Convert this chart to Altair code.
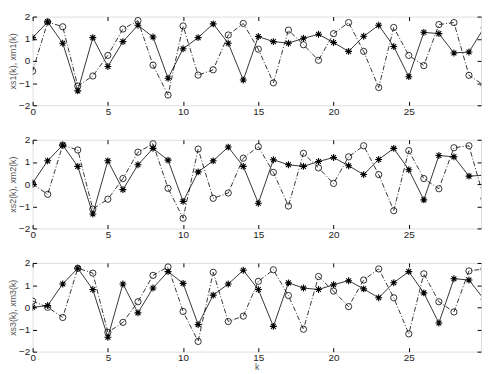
import altair as alt
import pandas as pd

k = list(range(31))
x_ticks = [0, 5, 10, 15, 20, 25, 30]
y_ticks = [-2, -1, 0, 1, 2]

xs1 = [1.05, 1.76, 0.80, -1.35, 1.05, -0.25, 0.87, 1.61, 1.08, -0.78, 0.55, 1.05, 1.67, 0.80, -0.86, 1.10,
       0.87, 0.80, 1.02, 1.20, 0.83, 0.43, 1.11, 1.61, 0.65, -0.71, 1.29, 1.23, 0.36, 0.40, 1.50]
xm1 = [-0.46, 1.76, 1.54, -1.13, -0.68, 0.25, 1.44, 1.82, -0.19, -1.54, 1.58, -0.64, -0.40, 1.17, 1.69, 0.53,
       -0.99, 1.39, 0.73, 0.03, 1.23, 1.73, 0.43, -1.20, 1.51, 0.25, -0.21, 1.64, 1.73, -0.65, -1.10]
xs2 = [0.05, 1.05, 1.76, 0.80, -1.35, 1.05, -0.25, 0.87, 1.61, 1.08, -0.78, 0.55, 1.05, 1.67, 0.80, -0.86,
       1.10, 0.87, 0.80, 1.02, 1.20, 0.83, 0.43, 1.11, 1.61, 0.65, -0.71, 1.29, 1.23, 0.36, 0.40]
xm2 = [0.0, -0.46, 1.76, 1.54, -1.13, -0.68, 0.25, 1.44, 1.82, -0.19, -1.54, 1.58, -0.64, -0.40, 1.17, 1.69,
       0.53, -0.99, 1.39, 0.73, 0.03, 1.23, 1.73, 0.43, -1.20, 1.51, 0.25, -0.21, 1.64, 1.73, -0.65]
xs3 = [0.0, 0.08, 1.05, 1.76, 0.80, -1.35, 1.05, -0.25, 0.87, 1.61, 1.08, -0.78, 0.55, 1.05, 1.67, 0.80,
       -0.86, 1.10, 0.87, 0.80, 1.02, 1.20, 0.83, 0.43, 1.11, 1.61, 0.65, -0.71, 1.29, 1.23, 0.36]
xm3 = [0.28, 0.0, -0.46, 1.76, 1.54, -1.13, -0.68, 0.25, 1.44, 1.82, -0.19, -1.54, 1.58, -0.64, -0.40, 1.17,
       1.69, 0.53, -0.99, 1.39, 0.73, 0.03, 1.23, 1.73, 0.43, -1.20, 1.51, 0.25, -0.21, 1.64, 1.73]

titles = ["xs1(k), xm1(k)", "xs2(k), xm2(k)", "xs3(k), xm3(k)"]

ASTERISK = "M-1,0L1,0M0,-1L0,1M-0.7,-0.7L0.7,0.7M-0.7,0.7L0.7,-0.7"
FONT = "Liberation Sans"

W, H = 455, 90


def panel(xs, xm, ytitle, last):
    df = pd.DataFrame({"k": k + k, "v": xs + xm, "s": ["xs"] * len(k) + ["xm"] * len(k)})
    df["k2"] = df["k"]
    df["v2"] = df["v"]
    xsc = alt.Scale(domain=[0, 29.8], nice=False, zero=False)
    ysc = alt.Scale(domain=[-2, 2], nice=False, zero=False)
    xax_kw = dict(values=x_ticks, tickSize=4, offset=-4, domain=False, grid=False, labelPadding=1,
                  labelFlush=False, labelOverlap=False, labelFontSize=10, labelFont=FONT,
                  labelColor="#222222", tickColor="#000000")
    if last:
        xax_kw.update(title="k", titleFontSize=9, titleFont=FONT, titleColor="#555555",
                      titleFontWeight="normal", titlePadding=0)
    else:
        xax_kw.update(title=None)
    xax = alt.Axis(**xax_kw)
    yax = alt.Axis(values=y_ticks, tickSize=4, offset=-4, domain=False, grid=False, labelPadding=3,
                   labelFlush=False, labelOverlap=False, labelFontSize=10, labelFont=FONT,
                   labelColor="#222222", tickColor="#000000", title=ytitle, titleFontSize=9,
                   titleFont=FONT, titleColor="#555555", titleFontWeight="normal", titlePadding=1)
    base = alt.Chart(df)
    X = alt.X("k:Q", scale=xsc, axis=xax)
    Y = alt.Y("v:Q", scale=ysc, axis=yax)
    m_line = base.transform_filter(alt.datum.s == "xm").mark_line(
        color="#000000", strokeWidth=0.8, strokeDash=[5, 2, 1, 2], clip=True).encode(x=X, y=Y)
    s_line = base.transform_filter(alt.datum.s == "xs").mark_line(
        color="#000000", strokeWidth=0.8, clip=True).encode(x=X, y=Y)
    s_pts = base.transform_filter(alt.datum.s == "xs").mark_point(
        shape=ASTERISK, size=49, filled=False, stroke="#000000", strokeWidth=1.1, opacity=1,
        clip=True).encode(x=X, y=Y)
    m_pts = base.transform_filter(alt.datum.s == "xm").mark_point(
        shape="circle", size=40, filled=False, stroke="#000000", strokeWidth=0.8, opacity=1,
        clip=True).encode(x=X, y=Y)
    top_ax = alt.Axis(orient="top", values=x_ticks, tickSize=4, offset=-4, domain=False, grid=False,
                      labels=False, title=None, tickColor="#000000")
    right_ax = alt.Axis(orient="right", values=y_ticks, tickSize=4, offset=-4, domain=False, grid=False,
                        labels=False, title=None, tickColor="#000000")
    axes = base.mark_point(opacity=0, clip=True).encode(
        x=alt.X("k2:Q", scale=xsc, axis=top_ax), y=alt.Y("v2:Q", scale=ysc, axis=right_ax))
    data_layer = alt.layer(m_line, s_line, m_pts, s_pts)
    return alt.layer(data_layer, axes).resolve_axis(
        x="independent", y="independent").properties(width=W, height=H)


panels = [panel(xs1, xm1, titles[0], False),
          panel(xs2, xm2, titles[1], False),
          panel(xs3, xm3, titles[2], True)]

chart = alt.vconcat(*panels, spacing=35, bounds="flush").properties(
    padding={"left": 0, "top": 0, "right": 0, "bottom": 0}
).configure_view(stroke="#000000", strokeWidth=1).configure(background="white")

chart.save("out.html", embed_options={"renderer": "svg", "actions": False})
